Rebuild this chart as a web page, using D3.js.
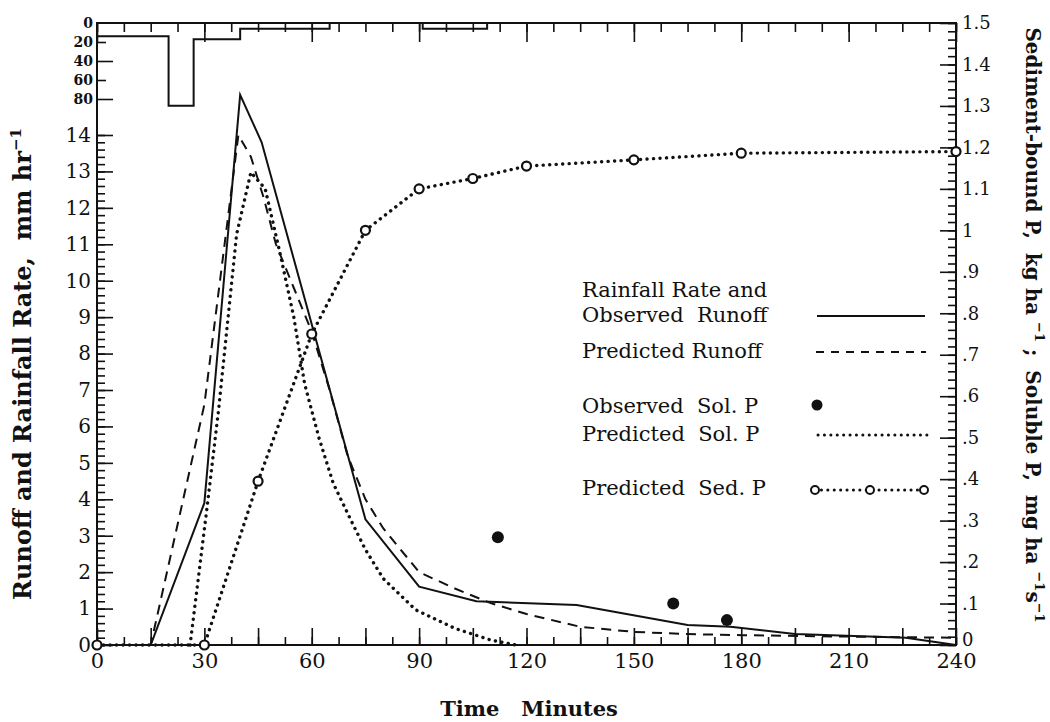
<!DOCTYPE html>
<html>
<head>
<meta charset="utf-8">
<script src="https://cdn.jsdelivr.net/npm/d3@7"></script>
<style>
  body { margin: 0; background: #fff; }
  text { font-family: "DejaVu Serif", serif; fill: #111; }
</style>
</head>
<body>
<script>
// Rainfall hyetograph (step, mm/hr), drawn hanging from the top frame
const rainTime = [0, 20, 27, 40, 65, 91, 109, 240];
const rainRate = [14, 87, 17, 6, 0, 6, 0, 0];

// Observed runoff (mm/hr)
const obsRunoffTime = [0, 15, 30, 40, 46, 75, 90, 106, 134, 165, 177, 195, 226, 240];
const obsRunoff     = [0, 0, 3.9, 15.1, 13.8, 3.45, 1.6, 1.2, 1.1, 0.55, 0.5, 0.3, 0.2, 0];

// Predicted runoff (mm/hr)
const predRunoffTime = [0, 15, 30, 39.5, 43, 46.5, 50, 55, 60, 65, 70, 75, 80, 90, 100, 110, 120, 135, 150, 165, 180, 210, 240];
const predRunoff     = [0, 0, 6.6, 14.0, 13.4, 12.3, 11.0, 9.8, 8.6, 7.0, 5.2, 4.0, 3.2, 2.0, 1.55, 1.15, 0.85, 0.5, 0.36, 0.3, 0.27, 0.23, 0.2];

// Predicted soluble P (mg/ha/s, right axis)
const predSolTime = [26, 31, 34, 39, 43, 47, 51, 55, 58, 62, 66, 71, 75, 80, 89, 100, 110, 117];
const predSol     = [0, 0.35, 0.57, 0.99, 1.14, 1.1, 0.95, 0.79, 0.63, 0.5, 0.39, 0.3, 0.23, 0.16, 0.085, 0.04, 0.012, 0];

// Observed soluble P
const obsSolTime = [112, 161, 176];
const obsSol     = [0.26, 0.1, 0.06];

// Predicted sediment-bound P (kg/ha, right axis)
const predSedTime = [0, 30, 45, 60, 75, 90, 105, 120, 150, 180, 240];
const predSed     = [0, 0, 0.395, 0.75, 1.0, 1.1, 1.125, 1.155, 1.17, 1.186, 1.19];

// Tick labels
const xTicks = [0, 30, 60, 90, 120, 150, 180, 210, 240];
const leftTicks = d3.range(0, 15);
const rainTicks = [0, 20, 40, 60, 80];
const rightTicks = d3.range(0, 16).map(i => i / 10);

const legendLabels = ["Rainfall Rate and", "Observed  Runoff", "Predicted Runoff",
                      "Observed  Sol. P", "Predicted  Sol. P", "Predicted  Sed. P"];

const width = 1050, height = 722;
const L = 97, R = 956, T = 23, B = 645;

const svg = d3.select("body").append("svg")
  .attr("width", width)
  .attr("height", height)
  .style("background", "#fff");

const x = d3.scaleLinear().domain([0, 240]).range([L, R]);
const yL = d3.scaleLinear().domain([0, 14]).range([B, 135]);
const yR = d3.scaleLinear().domain([0, 1.5]).range([B, T]);
const yRain = d3.scaleLinear().domain([0, 80]).range([T, 99]);

function styleAxis(g, fs) {
  g.select(".domain").remove();
  g.selectAll(".tick line").attr("stroke", "#111").attr("stroke-width", 1.6);
  g.selectAll(".tick text").attr("font-size", fs).attr("fill", "#111");
}

// bottom axis
svg.append("g").attr("transform", `translate(0,${B})`)
  .call(d3.axisBottom(x).tickValues(d3.range(0, 241, 7.5)).tickSize(-8).tickFormat(""))
  .call(g => styleAxis(g, 0));
svg.append("g").attr("transform", `translate(0,${B})`)
  .call(d3.axisBottom(x).tickValues(d3.range(15, 240, 30)).tickSize(-17).tickFormat(""))
  .call(g => styleAxis(g, 0));
svg.append("g").attr("transform", `translate(0,${B})`)
  .call(d3.axisBottom(x).tickValues(xTicks).tickSize(-17).tickPadding(8).tickFormat(d3.format("d")))
  .call(g => styleAxis(g, 21));

// top axis
svg.append("g").attr("transform", `translate(0,${T})`)
  .call(d3.axisTop(x).tickValues(d3.range(0, 241, 7.5)).tickSize(-9).tickFormat(""))
  .call(g => styleAxis(g, 0));
svg.append("g").attr("transform", `translate(0,${T})`)
  .call(d3.axisTop(x).tickValues(xTicks).tickSize(-19).tickFormat(""))
  .call(g => styleAxis(g, 0));

// left axis (runoff)
svg.append("g").attr("transform", `translate(${L},0)`)
  .call(d3.axisLeft(yL).tickValues(d3.range(0, 71).map(i => i / 5)).tickSize(-8).tickFormat(""))
  .call(g => styleAxis(g, 0));
svg.append("g").attr("transform", `translate(${L},0)`)
  .call(d3.axisLeft(yL).tickValues(leftTicks).tickSize(-16).tickPadding(6).tickFormat(d3.format("d")))
  .call(g => styleAxis(g, 20));

// left axis (rainfall, top)
svg.append("g").attr("transform", `translate(${L},0)`)
  .call(d3.axisLeft(yRain).tickValues([20, 60]).tickSize(-9).tickFormat(""))
  .call(g => styleAxis(g, 0));
svg.append("g").attr("transform", `translate(${L},0)`)
  .call(d3.axisLeft(yRain).tickValues([40, 80]).tickSize(-16).tickFormat(""))
  .call(g => styleAxis(g, 0));
svg.append("g").attr("transform", `translate(${L},0)`)
  .call(d3.axisLeft(yRain).tickValues(rainTicks).tickSize(0).tickPadding(4).tickFormat(d3.format("d")))
  .call(g => styleAxis(g, 14))
  .call(g => g.selectAll(".tick text").attr("font-weight", "bold"));

// right axis
const fmtR = v => v === 0 ? "0" : (v < 1 ? d3.format(".1f")(v).replace(/^0/, "") : d3.format(".1~f")(v));
svg.append("g").attr("transform", `translate(${R},0)`)
  .call(d3.axisRight(yR).tickValues(d3.range(0, 76).map(i => i / 50)).tickSize(-8).tickFormat(""))
  .call(g => styleAxis(g, 0));
svg.append("g").attr("transform", `translate(${R},0)`)
  .call(d3.axisRight(yR).tickValues(rightTicks).tickSize(-16).tickPadding(6).tickFormat(fmtR))
  .call(g => styleAxis(g, 18))
  .call(g => g.selectAll(".tick text").filter(d => d === 0).attr("dy", "0.05em"));

// frame
svg.append("rect")
  .attr("x", L).attr("y", T).attr("width", R - L).attr("height", B - T)
  .attr("fill", "none").attr("stroke", "#111").attr("stroke-width", 2);

// rainfall hyetograph
svg.append("path")
  .datum(rainTime.map((t, i) => [t, rainRate[i]]))
  .attr("fill", "none").attr("stroke", "#111").attr("stroke-width", 2)
  .attr("d", d3.line().curve(d3.curveStepAfter).x(d => x(d[0])).y(d => yRain(d[1])));

const lineL = d3.line().x(d => x(d[0])).y(d => yL(d[1]));
const lineR = d3.line().x(d => x(d[0])).y(d => yR(d[1]));

// observed runoff
svg.append("path")
  .datum(obsRunoffTime.map((t, i) => [t, obsRunoff[i]]))
  .attr("fill", "none").attr("stroke", "#111").attr("stroke-width", 2)
  .attr("d", lineL);

// predicted runoff
svg.append("path")
  .datum(predRunoffTime.map((t, i) => [t, predRunoff[i]]))
  .attr("fill", "none").attr("stroke", "#111").attr("stroke-width", 2)
  .attr("stroke-dasharray", "10 7")
  .attr("d", lineL);

// predicted soluble P
svg.append("path")
  .datum(predSolTime.map((t, i) => [t, predSol[i]]))
  .attr("fill", "none").attr("stroke", "#111").attr("stroke-width", 3.4)
  .attr("stroke-linecap", "round").attr("stroke-dasharray", "0.1 6.4")
  .attr("d", lineR);

// predicted sediment P
const sedData = predSedTime.map((t, i) => [t, predSed[i]]);
svg.append("path")
  .datum(sedData)
  .attr("fill", "none").attr("stroke", "#111").attr("stroke-width", 3.4)
  .attr("stroke-linecap", "round").attr("stroke-dasharray", "0.1 6.4")
  .attr("d", lineR);
svg.selectAll(".sed").data(sedData).enter().append("circle")
  .attr("class", "sed")
  .attr("cx", d => x(d[0])).attr("cy", d => yR(d[1])).attr("r", 4.5)
  .attr("fill", "#fff").attr("stroke", "#111").attr("stroke-width", 2.2);

// observed soluble P
svg.selectAll(".obs").data(obsSolTime.map((t, i) => [t, obsSol[i]])).enter().append("circle")
  .attr("class", "obs")
  .attr("cx", d => x(d[0])).attr("cy", d => yR(d[1])).attr("r", 6)
  .attr("fill", "#111");

// legend
const legY = [297, 322, 358, 413, 441, 495];
svg.selectAll(".leg").data(legendLabels).enter().append("text")
  .attr("class", "leg")
  .attr("x", 582).attr("y", (d, i) => legY[i])
  .attr("font-size", 21)
  .style("white-space", "pre")
  .text(d => d);

const lg = svg.append("g");
lg.append("line").attr("x1", 817).attr("x2", 925).attr("y1", 316).attr("y2", 316)
  .attr("stroke", "#111").attr("stroke-width", 2);
lg.append("line").attr("x1", 816).attr("x2", 926).attr("y1", 352).attr("y2", 352)
  .attr("stroke", "#111").attr("stroke-width", 2).attr("stroke-dasharray", "8 7");
lg.append("circle").attr("cx", 817).attr("cy", 405).attr("r", 5.5).attr("fill", "#111");
lg.append("line").attr("x1", 818).attr("x2", 928).attr("y1", 435).attr("y2", 435)
  .attr("stroke", "#111").attr("stroke-width", 3).attr("stroke-linecap", "round")
  .attr("stroke-dasharray", "0.1 6.3");
lg.append("line").attr("x1", 815).attr("x2", 924).attr("y1", 490).attr("y2", 490)
  .attr("stroke", "#111").attr("stroke-width", 3).attr("stroke-linecap", "round")
  .attr("stroke-dasharray", "0.1 6.3");
lg.selectAll("circle.lc").data([815, 870, 924]).enter().append("circle")
  .attr("class", "lc")
  .attr("cx", d => d).attr("cy", 490).attr("r", 4)
  .attr("fill", "#fff").attr("stroke", "#111").attr("stroke-width", 2);

// axis titles
svg.append("text")
  .attr("transform", "translate(529,716)")
  .attr("text-anchor", "middle")
  .attr("font-size", 21).attr("font-weight", "bold")
  .style("white-space", "pre")
  .text("Time   Minutes");

const lt = svg.append("text")
  .attr("transform", "translate(31,364) rotate(-90)")
  .attr("text-anchor", "middle")
  .attr("font-size", 24).attr("font-weight", "bold")
  .style("white-space", "pre");
lt.append("tspan").text("Runoff and Rainfall Rate,  mm hr");
lt.append("tspan").attr("dy", -10).attr("font-size", 15).text("\u22121");

const rt = svg.append("text")
  .attr("transform", "translate(1026,325) rotate(90)")
  .attr("text-anchor", "middle")
  .attr("font-size", 20).attr("font-weight", "bold")
  .style("white-space", "pre");
rt.append("tspan").text("Sediment-bound P,  kg ha ");
rt.append("tspan").attr("dy", -9).attr("font-size", 13).text("\u22121");
rt.append("tspan").attr("dy", 9).text(" ;  Soluble P,  mg ha ");
rt.append("tspan").attr("dy", -9).attr("font-size", 13).text("\u22121");
rt.append("tspan").attr("dy", 9).text("s");
rt.append("tspan").attr("dy", -9).attr("font-size", 13).text("\u22121");
</script>
</body>
</html>
